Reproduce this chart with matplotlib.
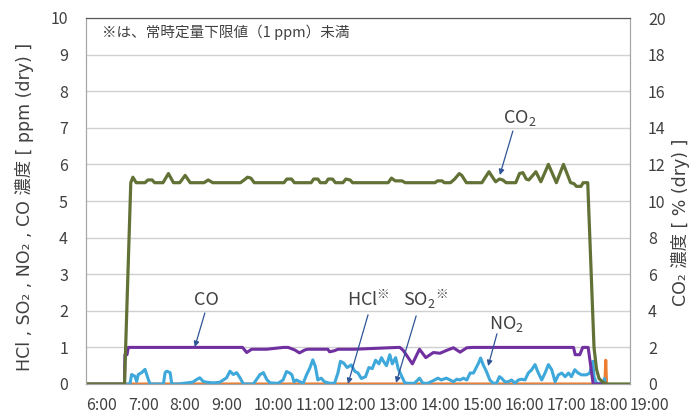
import matplotlib
matplotlib.use("Agg")
import matplotlib.pyplot as plt

plt.rcParams['font.family'] = ['Noto Sans CJK JP', 'DejaVu Sans']
plt.rcParams['mathtext.fontset'] = 'custom'
plt.rcParams['mathtext.rm'] = 'Noto Sans CJK JP'
plt.rcParams['mathtext.it'] = 'Noto Sans CJK JP'

# ---------------- data (hours of day, concentration) ----------------
co2_t = [6.0, 6.92, 7.07, 7.12, 7.20, 7.41, 7.48, 7.58, 7.64, 7.84, 7.97, 8.09, 8.24, 8.37, 8.49,
         8.82, 8.92, 9.03, 9.69, 9.78, 9.86, 9.94, 10.02, 10.73, 10.80, 10.91, 10.98, 11.38, 11.44,
         11.54, 11.60, 11.73, 11.79, 11.89, 11.96, 12.14, 12.21, 12.31, 12.37, 13.22, 13.30, 13.39,
         13.55, 13.63, 14.34, 14.40, 14.51, 14.56, 14.71, 14.81, 14.92, 14.98, 15.09, 15.46, 15.63,
         15.73, 15.79, 15.88, 15.96, 16.04, 16.27, 16.36, 16.44, 16.52, 16.58, 16.64, 16.75, 16.87,
         17.05, 17.24, 17.41, 17.58, 17.66, 17.72, 17.83, 17.88, 17.99, 18.14, 18.20, 18.26, 18.35,
         18.45, 19.0]
co2_v = [0.0, 0.0, 11.0, 11.3, 11.0, 11.0, 11.15, 11.15, 11.0, 11.0, 11.5, 11.0, 11.0, 11.4, 11.0,
         11.0, 11.15, 11.0, 11.0, 11.15, 11.3, 11.25, 11.0, 11.0, 11.2, 11.2, 11.0, 11.0, 11.2,
         11.2, 11.0, 11.0, 11.2, 11.2, 11.0, 11.0, 11.2, 11.15, 11.0, 11.0, 11.25, 11.1,
         11.1, 11.0, 11.0, 11.1, 11.1, 11.0, 11.0, 11.2, 11.5, 11.4, 11.0, 11.0, 11.6,
         11.25, 11.05, 11.2, 11.15, 11.0, 11.0, 11.5, 11.55, 11.2, 11.15, 11.3, 11.6, 11.05,
         12.0, 11.0, 12.0, 11.0, 10.95, 10.8, 10.8, 11.0, 11.0, 2.0, 0.8, 0.3, 0.1,
         0.0, 0.0]

co_t = [6.0, 6.92, 6.93, 6.98, 7.01, 9.74, 9.84, 9.96, 10.32, 10.72, 10.83, 10.99, 11.10, 11.23,
        11.30, 11.78, 11.82, 11.94, 12.02, 12.42, 13.46, 13.50, 13.58, 13.80, 13.97, 14.12, 14.30,
        14.46, 14.62, 14.78, 14.94, 15.10, 15.25, 17.65, 17.69, 17.80, 17.87, 18.00, 18.12, 18.40]
co_v = [0.0, 0.0, 0.8, 0.8, 1.0, 1.0, 0.86, 0.95, 0.95, 1.0, 1.0, 0.93, 0.85, 0.93,
        0.95, 0.95, 0.88, 0.91, 0.95, 0.95, 1.0, 1.0, 0.92, 0.55, 0.95, 0.72, 0.86,
        0.84, 0.92, 0.99, 0.87, 0.99, 1.0, 1.0, 0.8, 0.8, 1.0, 1.0, 0.0, 0.0]

no2_t = [7.00, 7.05, 7.09, 7.17, 7.21, 7.25, 7.33, 7.41, 7.45, 7.49, 7.53, 7.85, 7.89, 7.93, 8.01,
         8.05, 8.20, 8.40, 8.55, 8.64, 8.72, 8.80, 8.88, 9.04, 9.20, 9.36, 9.44, 9.52, 9.60, 9.68,
         9.76, 10.00, 10.16, 10.24, 10.32, 10.40, 10.59, 10.71, 10.79, 10.87, 10.92, 10.97, 11.03,
         11.11, 11.19, 11.27, 11.35, 11.42, 11.48, 11.54, 11.62, 11.70, 11.82, 11.94, 12.02, 12.08,
         12.16, 12.24, 12.34, 12.42, 12.50, 12.58, 12.68, 12.76, 12.84, 12.92, 13.00, 13.06, 13.12,
         13.18, 13.26, 13.32, 13.40, 13.46, 13.54, 13.62, 13.69, 13.85, 13.97, 14.05, 14.17, 14.33,
         14.41, 14.49, 14.61, 14.70, 14.78, 14.86, 14.94, 15.02, 15.10, 15.18, 15.26, 15.30, 15.38,
         15.43, 15.49, 15.57, 15.65, 15.73, 15.81, 15.88, 15.93, 16.01, 16.09, 16.17, 16.25, 16.33,
         16.41, 16.49, 16.57, 16.65, 16.73, 16.81, 16.89, 16.97, 17.05, 17.13, 17.21, 17.29, 17.37,
         17.45, 17.53, 17.60, 17.68, 17.76, 17.84, 17.96, 18.04, 18.11, 18.14, 18.20, 18.36, 18.39,
         18.41]
no2_v = [0.0, 0.0, 0.26, 0.21, 0.07, 0.26, 0.31, 0.40, 0.26, 0.12, 0.0, 0.0, 0.31, 0.35, 0.31,
         0.0, 0.0, 0.03, 0.05, 0.12, 0.17, 0.07, 0.05, 0.03, 0.05, 0.17, 0.35, 0.26, 0.31, 0.17,
         0.0, 0.0, 0.26, 0.31, 0.12, 0.03, 0.02, 0.11, 0.34, 0.30, 0.25, 0.06, 0.11,
         0.06, 0.02, 0.25, 0.44, 0.66, 0.48, 0.11, 0.16, 0.06, 0.02, 0.02, 0.30, 0.62,
         0.57, 0.45, 0.52, 0.35, 0.30, 0.15, 0.20, 0.45, 0.42, 0.65, 0.55, 0.72, 0.60,
         0.50, 0.80, 0.55, 0.72, 0.42, 0.22, 0.03, 0.02, 0.02, 0.16, 0.02, 0.02, 0.11,
         0.16, 0.11, 0.16, 0.11, 0.06, 0.13, 0.11, 0.16, 0.11, 0.30, 0.30, 0.39, 0.57,
         0.71, 0.53, 0.34, 0.11, 0.02, 0.02, 0.20, 0.16, 0.06, 0.06, 0.11, 0.02, 0.11,
         0.13, 0.11, 0.30, 0.39, 0.53, 0.30, 0.11, 0.30, 0.53, 0.39, 0.06, 0.25, 0.30,
         0.20, 0.30, 0.20, 0.39, 0.30, 0.25, 0.25, 0.30, 0.62, 0.20, 0.02, 0.02, 0.15,
         0.0]

hcl_t = [6.93, 18.40, 18.42, 18.44]
hcl_v = [0.0, 0.0, 0.65, 0.0]
so2_t = [6.93, 18.40]
so2_v = [0.0, 0.0]

x_ticks = list(range(6, 20))
x_labels = [f"{h}:00" for h in x_ticks]
left_ticks = list(range(0, 11))
right_ticks = list(range(0, 21, 2))

# ---------------- figure ----------------
W, H = 691, 412
fig = plt.figure(figsize=(W / 100, H / 100), dpi=100)
ax = fig.add_axes([86 / W, 1 - 384 / H, (630 - 86) / W, (384 - 18) / H])
ax2 = ax.twinx()

txt = '#404040'
ax.set_xlim(6, 19)
ax.set_ylim(0, 10)
ax2.set_ylim(0, 20)
ax.set_yticks(left_ticks)
ax2.set_yticks(right_ticks)
ax.set_xticks(x_ticks)
ax.set_xticklabels(x_labels)
for lab in ax.get_xticklabels():
    lab.set_ha('left')
ax.grid(axis='y', color='#D0D0D0', lw=1.0)
ax.set_axisbelow(True)
ax.tick_params(axis='both', length=0, labelsize=11.5, colors=txt)
ax.tick_params(axis='y', pad=13)
ax.tick_params(axis='x', pad=9)
ax2.tick_params(axis='y', length=0, labelsize=11.5, colors=txt, pad=13)

for a in (ax, ax2):
    a.spines['left'].set_color('#A6A6A6')
    a.spines['right'].set_color('#A6A6A6')
    a.spines['bottom'].set_color('#A6A6A6')
    a.spines['top'].set_color('#595959')

ax.plot(so2_t, so2_v, color='#A5A5A5', lw=2.2, solid_joinstyle='round')
ax.plot(hcl_t, hcl_v, color='#ED7D31', lw=2.2, solid_joinstyle='round')
ax.plot(no2_t, no2_v, color='#3EA8DA', lw=2.2, solid_joinstyle='round')
ax.plot(co_t, co_v, color='#7030A0', lw=2.2, solid_joinstyle='round')
ax2.plot(co2_t, co2_v, color='#627236', lw=2.3, solid_joinstyle='round')

arrow = dict(arrowstyle='-|>', color='#2F5597', lw=0.9, mutation_scale=8, shrinkA=0, shrinkB=0)
fs = 13
ax.annotate('', xy=(15.89, 5.71), xytext=(16.20, 6.91), arrowprops=arrow)
ax.text(16.37, 7.27, 'CO$_2$', ha='center', va='center', fontsize=fs, color=txt)
ax.annotate('', xy=(8.60, 1.01), xytext=(8.84, 1.94), arrowprops=arrow)
ax.text(8.89, 2.30, 'CO', ha='center', va='center', fontsize=fs, color=txt)
ax.annotate('', xy=(12.26, 0.0), xytext=(12.74, 1.89), arrowprops=arrow)
ax.text(12.76, 2.30, 'HCl$^{※}$', ha='center', va='center', fontsize=fs, color=txt)
ax.annotate('', xy=(13.41, 0.03), xytext=(13.89, 1.86), arrowprops=arrow)
ax.text(14.10, 2.30, 'SO$_2$$^{※}$', ha='center', va='center', fontsize=fs, color=txt)
ax.annotate('', xy=(15.61, 0.49), xytext=(15.82, 1.37), arrowprops=arrow)
ax.text(16.04, 1.64, 'NO$_2$', ha='center', va='center', fontsize=fs, color=txt)

ax.text(6.38, 9.6, '※は、常時定量下限値（1 ppm）未満', ha='left', va='center',
        fontsize=10.5, color=txt)

lab_family = ['DejaVu Sans', 'Noto Sans CJK JP']
fig.text(25 / W, 1 - 207 / H, 'HCl , SO₂ , NO₂ , CO 濃度 [ ppm (dry) ]', rotation=90,
         ha='center', va='center', fontsize=12.5, color=txt, family=lab_family)
fig.text(680 / W, 1 - 222 / H, 'CO₂ 濃度 [ % (dry) ]', rotation=90,
         ha='center', va='center', fontsize=12.5, color=txt, family=lab_family)

fig.savefig('out.png', dpi=100)
